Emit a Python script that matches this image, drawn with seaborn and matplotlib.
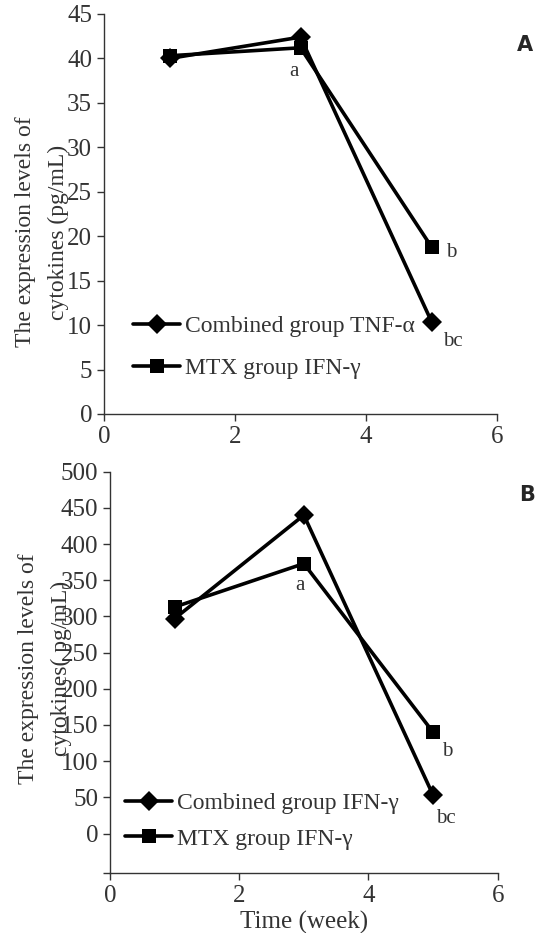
import pandas as pd
import matplotlib
matplotlib.use("Agg")
import matplotlib.pyplot as plt
import seaborn as sns
from matplotlib.lines import Line2D

# data
weeks = [1, 3, 5]
a_combined = [40.0, 42.4, 10.4]   # Combined group TNF-a
a_mtx = [40.3, 41.2, 18.8]        # MTX group IFN-g
b_combined = [297, 440, 53]       # Combined group IFN-g
b_mtx = [313, 373, 140]           # MTX group IFN-g

a_labels = ["Combined group TNF-\u03b1", "MTX group IFN-\u03b3"]
b_labels = ["Combined group IFN-\u03b3", "MTX group IFN-\u03b3"]
a_yticks = [0, 5, 10, 15, 20, 25, 30, 35, 40, 45]
b_yticks = [-55, 0, 50, 100, 150, 200, 250, 300, 350, 400, 450, 500]
b_yticklabels = [""] + [str(v) for v in b_yticks[1:]]
xticks = [0, 2, 4, 6]
a_notes = [("a", 3, 41.2, -5, -17), ("b", 5, 18.8, 14, -4), ("bc", 5, 10.4, 15, -14)]
b_notes = [("a", 3, 373, -3, -16), ("b", 5, 140, 10, -14), ("bc", 5, 53, 9, -17)]

sns.set_style("ticks")
plt.rcParams["font.family"] = ["Liberation Serif", "DejaVu Serif"]
grey = "#333333"

fig = plt.figure(figsize=(5.35, 9.33), dpi=100)
axA = fig.add_axes([104/535, 1-414/933, 393/535, 400/933])
axB = fig.add_axes([110/535, 1-873.3/933, 387.7/535, 401.6/933])


def panel(ax, comb, mtx, labels, ylim, yticks, yticklabels, notes, ylabel):
    df = pd.DataFrame({
        "week": weeks * 2,
        "value": comb + mtx,
        "group": [labels[0]] * 3 + [labels[1]] * 3,
    })
    sns.lineplot(data=df, x="week", y="value", hue="group", style="group",
                 markers={labels[0]: "D", labels[1]: "s"}, dashes=False,
                 palette=["black", "black"], linewidth=2.6, markersize=10,
                 markeredgewidth=0, ax=ax, legend=False)
    ax.set_xlim(0, 6)
    ax.set_ylim(*ylim)
    ax.set_xticks(xticks)
    ax.set_yticks(yticks)
    ax.set_yticklabels(yticklabels)
    ax.tick_params(labelsize=18, labelcolor=grey, color=grey, length=5, width=1)
    for s in ["top", "right"]:
        ax.spines[s].set_visible(False)
    for s in ["left", "bottom"]:
        ax.spines[s].set_color(grey)
        ax.spines[s].set_linewidth(1)
    ax.set_xlabel("")
    ax.set_ylabel(ylabel, fontsize=17, color=grey, linespacing=1.7)
    for txt, x, y, dx, dy in notes:
        ax.annotate(txt, (x, y), xytext=(dx, dy), textcoords="offset points",
                    ha="center", va="center", fontsize=15, color=grey)


panel(axA, a_combined, a_mtx, a_labels, (0, 45), a_yticks, [str(v) for v in a_yticks],
      a_notes, "The expression levels of\ncytokines (pg/mL)")
panel(axB, b_combined, b_mtx, b_labels, (-55, 500), b_yticks, b_yticklabels,
      b_notes, "The expression levels of\ncytokines( pg/mL)")
axA.yaxis.set_label_coords(-0.09, 0.455)
axB.yaxis.set_label_coords(-0.098, 0.51)
axB.set_xlabel("Time (week)", fontsize=18, color=grey, labelpad=3)

# legends
for ax, labels, anchor, sp in [(axA, a_labels, (0.05, 0.27), 0.87),
                               (axB, b_labels, (0.015, 0.225), 0.6)]:
    handles = [Line2D([], [], color="black", lw=2.6, marker=m, markersize=10,
                      markeredgewidth=0) for m in ["D", "s"]]
    ax.legend(handles, labels, loc="upper left", bbox_to_anchor=anchor,
              frameon=False, fontsize=17, handlelength=2.0, handletextpad=0.2,
              labelspacing=sp, borderaxespad=0, labelcolor=grey)

fig.text(517/535, 1-45/933, "A", fontsize=15, fontweight="bold",
         family="DejaVu Sans", va="center", ha="left")
fig.text(519/535, 1-495/933, "B", fontsize=15, fontweight="bold",
         family="DejaVu Sans", va="center", ha="left")

fig.savefig("out.png", dpi=100)
